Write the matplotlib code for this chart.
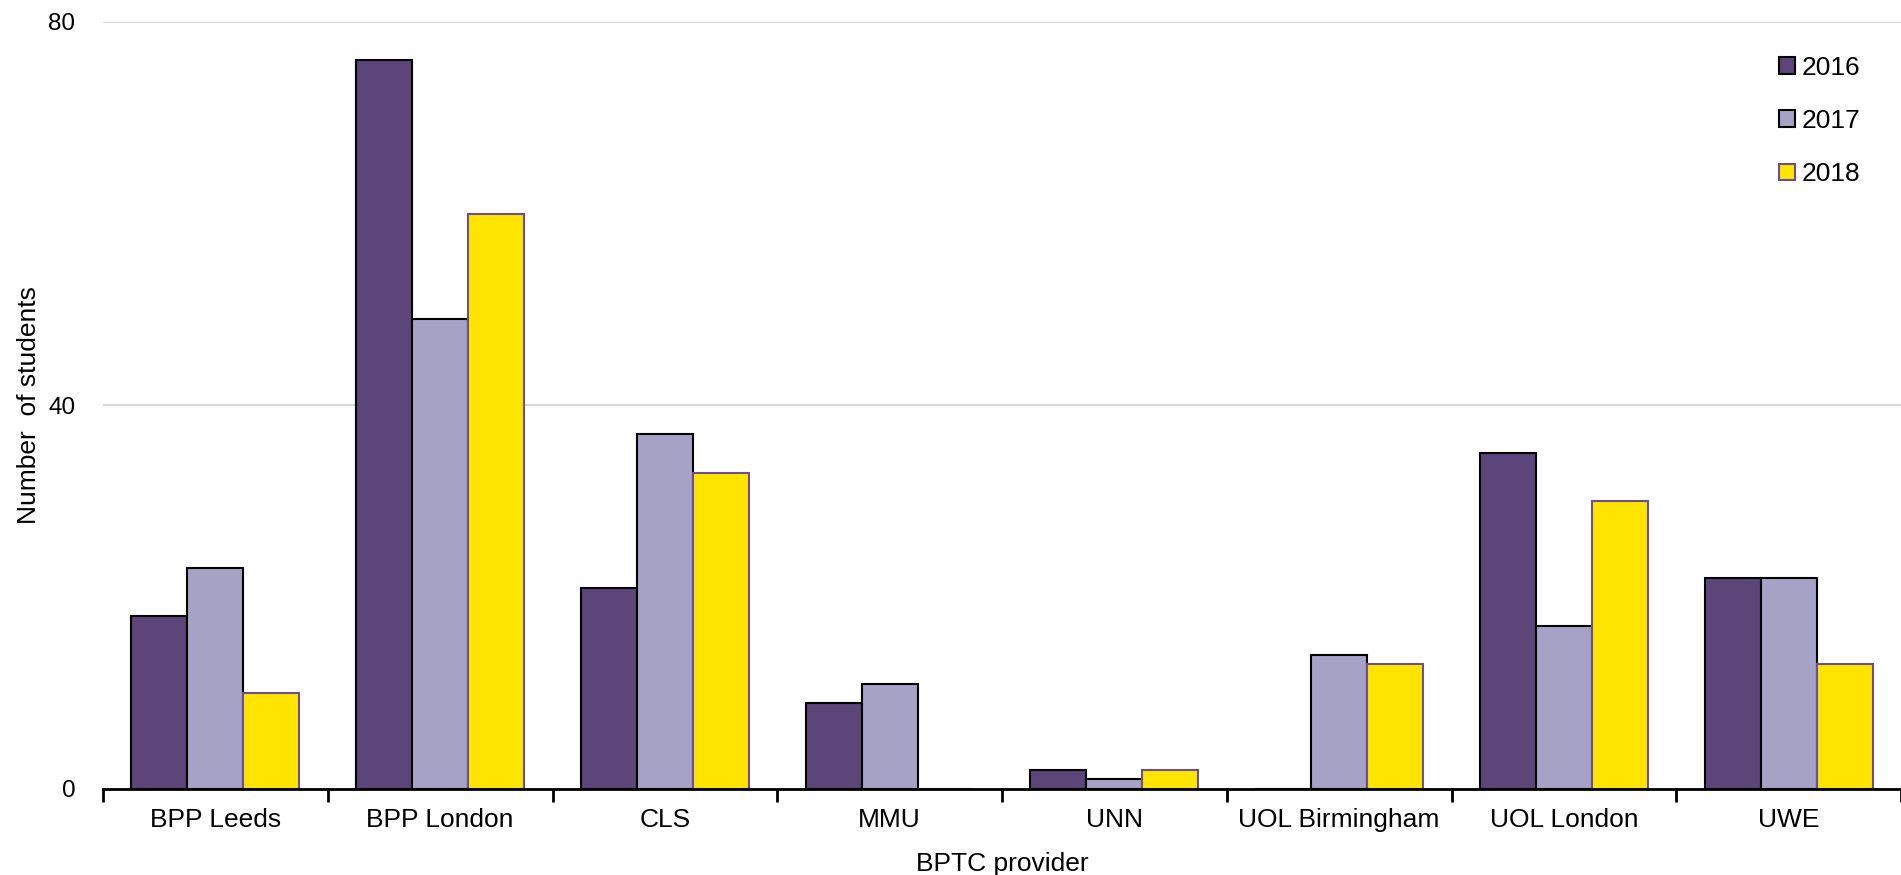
import matplotlib
matplotlib.use("Agg")
import matplotlib.pyplot as plt
import numpy as np

plt.rcParams["font.family"] = ["Liberation Sans", "DejaVu Sans"]

# data
providers = ["BPP Leeds", "BPP London", "CLS", "MMU", "UNN",
             "UOL Birmingham", "UOL London", "UWE"]
years = ["2016", "2017", "2018"]
students_2016 = [18, 76, 21, 9, 2, 0, 35, 22]
students_2017 = [23, 49, 37, 11, 1, 14, 17, 22]
students_2018 = [10, 60, 33, 0, 2, 13, 30, 13]

series = [students_2016, students_2017, students_2018]
fills = ["#5C4579", "#A6A2C6", "#FFE400"]
edges = ["#000000", "#000000", "#6B4F96"]

fig = plt.figure(figsize=(19.01, 8.75), dpi=100)
ax = fig.add_axes([0.0542, 0.0983, 0.9458, 0.8766])

x = np.arange(len(providers))
width = 0.249
for i, (vals, label) in enumerate(zip(series, years)):
    ax.bar(x + (i - 1) * width, vals, width, color=fills[i],
           edgecolor=edges[i], linewidth=1.5, label=label, zorder=3)

ax.set_xlim(-0.5, len(providers) - 0.5)
ax.set_ylim(0, 80)
ax.set_yticks([0, 40, 80])
ax.yaxis.grid(True, color="#D0D0D0", linewidth=1.2, zorder=0)

# categories labelled in the middle, tick marks at group boundaries
ax.set_xticks(x)
ax.set_xticklabels(providers, fontsize=19)
ax.tick_params(axis="x", which="major", length=0, pad=14)
ax.set_xticks(np.arange(-0.5, len(providers)), minor=True)
ax.tick_params(axis="x", which="minor", length=9, width=2, direction="out")
ax.tick_params(axis="y", length=0, pad=20, labelsize=17.5)

for side in ["left", "right", "top"]:
    ax.spines[side].set_visible(False)
ax.spines["bottom"].set_linewidth(2)
ax.spines["bottom"].set_zorder(4)

ax.set_xlabel("BPTC provider", fontsize=19, labelpad=14)
ax.set_ylabel("Number  of students", fontsize=19, va="center")
ax.yaxis.set_label_coords(-0.041, 0.5)

ax.legend(loc="upper right", bbox_to_anchor=(0.991, 0.963),
          bbox_transform=fig.transFigure, frameon=False, fontsize=19,
          handlelength=0.6, handleheight=0.6, handletextpad=0.25,
          labelspacing=1.1)

fig.savefig("out.png", dpi=100)
